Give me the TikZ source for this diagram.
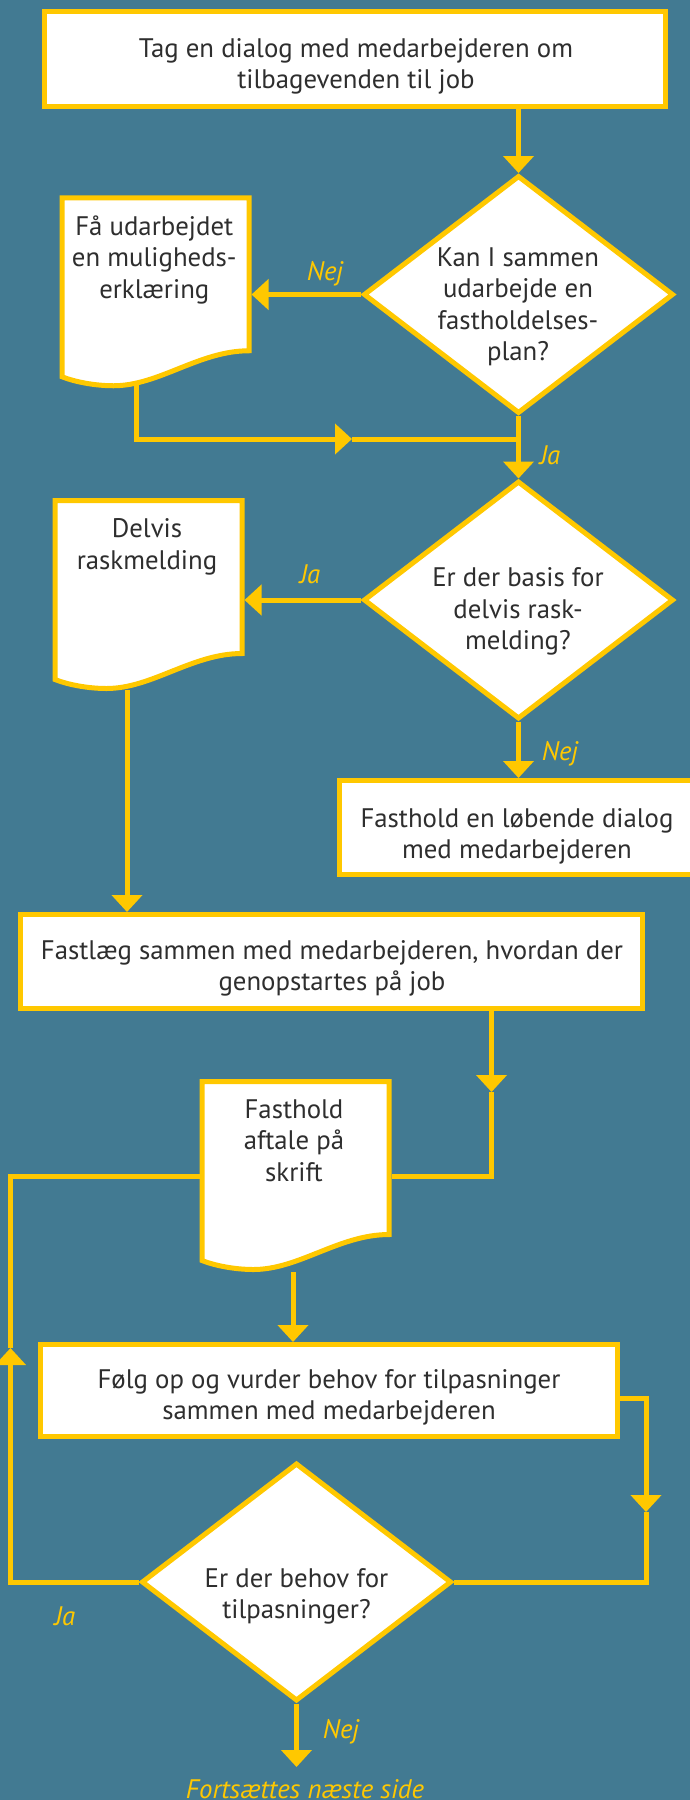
\documentclass[tikz,border=0pt]{standalone}
\usepackage{fontspec}
\setmainfont{PT Sans}
\usetikzlibrary{shapes.geometric,arrows.meta,calc}
\definecolor{bg}{HTML}{427A92}
\definecolor{yel}{HTML}{FFC800}
\definecolor{txt}{HTML}{2E2E2E}
\pgfdeclarelayer{back}
\pgfdeclarelayer{shapes}
\pgfsetlayers{back,shapes,main}
\newcommand\fs{\fontsize{26.8}{31.5}\selectfont}
\newcommand\mydoc[1]{%
  \coordinate (#1-nw) at ($(#1.north west)+(2.5,2.5)$);
  \coordinate (#1-ne) at ($(#1.north east)+(-2.5,2.5)$);
  \coordinate (#1-se) at ($(#1.south east)+(-2.5,-2.5)$);
  \coordinate (#1-sw) at ($(#1.south west)+(2.5,-2.5)$);
  \path[docline] (#1-nw) -- (#1-ne) -- (#1-se)
    .. controls ($(#1-sw)+(137,0)$) and ($(#1-sw)+(97,35)$) .. ($(#1-sw)+(51.5,35)$)
    .. controls ($(#1-sw)+(32.5,35)$) and ($(#1-sw)+(12.5,31)$) .. ($(#1-sw)+(0,26)$) -- cycle;}
\begin{document}
\begin{tikzpicture}[x=1pt,y=-1pt,
  every node/.style={font=\fs},
  box/.style={rectangle, draw=yel, fill=white, line width=5pt, inner sep=0pt},
  dec/.style={diamond, draw=yel, fill=white, line width=5pt, inner sep=0pt, minimum width=310pt, minimum height=238pt},
  docn/.style={rectangle, inner sep=0pt, outer sep=2.5pt, minimum width=187pt, minimum height=153pt},
  docline/.style={draw=yel, fill=white, line width=5pt},
  txtn/.style={align=center, text=txt, inner sep=0pt},
  lab/.style={text=yel, font=\fs\itshape, inner sep=0pt},
  conn/.style={draw=yel, line width=5pt},
  arr/.style={conn, -{Triangle[width=30pt,length=17pt]}}
]
\begin{pgfonlayer}{back}
\fill[bg] (0,0) rectangle (690,1800);
\end{pgfonlayer}
\useasboundingbox (0,0) rectangle (690,1800);

% nodes
\node[box, minimum width=621pt, minimum height=95pt] (b1) at (355,59) {};
\node[txtn] (b1t) at (356,66.5) {Tag en dialog med medarbejderen om\\tilbagevenden til job};
\node[dec] (d1) at (518.5,294.5) {};
\node[txtn] (d1t) at (518,306.9) {Kan I sammen\\udarbejde en\\fastholdelses-\\plan?};
\node[docn] (doc1) at (155.5,274.25) {};
\node[dec] (d2) at (518.5,600) {};
\node[txtn] (d2t) at (518,611.7) {Er der basis for\\delvis rask-\\melding?};
\node[docn] (doc2) at (148.5,577) {};
\node[box, minimum width=358pt, minimum height=94pt] (b3) at (518.5,827.5) {};
\node[txtn] (b3t) at (517,836.5) {Fasthold en løbende dialog\\med medarbejderen};
\node[box, minimum width=622pt, minimum height=94pt] (b4) at (331.3,961.5) {};
\node[txtn] (b4t) at (332,968.5) {Fastlæg sammen med medarbejderen, hvordan der\\genopstartes på job};
\node[docn] (doc3) at (295.5,1158) {};
\node[box, minimum width=577pt, minimum height=92pt] (b5) at (329,1390.5) {};
\node[txtn] (b5t) at (329,1397.5) {Følg op og vurder behov for tilpasninger\\sammen med medarbejderen};
\node[dec] (d3) at (296.5,1582) {};
\node[txtn] (d3t) at (296.5,1596.5) {Er der behov for\\tilpasninger?};

\begin{pgfonlayer}{shapes}
\mydoc{doc1}
\mydoc{doc2}
\mydoc{doc3}
\end{pgfonlayer}
\node[txtn, anchor=north] (doc1t) at (154.3,215.5) {Få udarbejdet\\en muligheds-\\erklæring};
\node[txtn, anchor=north] (doc2t) at (147,518.5) {Delvis\\raskmelding};
\node[txtn, anchor=north] (doc3t) at (294,1099.5) {Fasthold\\aftale på\\skrift};

% connectors
\draw[arr] (d1.north |- b1.south) -- (d1.north);
\draw[arr] (d1.west) -- (d1.west -| doc1.east);
\node[lab, anchor=base] (l1) at (325,280) {Nej};
\coordinate (s1) at (136,385);
\coordinate (m1) at (352,439);
\coordinate (j1) at (518.5,439);
\draw[arr] (s1) |- (m1);
\draw[conn] (m1) -- (j1);
\draw[arr] (d1.south) -- (d2.north);
\node[lab, anchor=base] (l2) at (550,464) {Ja};
\draw[arr] (d2.west) -- (d2.west -| doc2.east);
\node[lab, anchor=base] (l3) at (310,583) {Ja};
\draw[arr] (d2.south) -- (d2.south |- b3.north);
\node[lab, anchor=base] (l4) at (560,760) {Nej};
\coordinate (s2) at (127,690);
\draw[arr] (s2) -- (s2 |- b4.north);
\coordinate (m2) at (491.5,1092);
\coordinate (c2) at (491.5,1176);
\draw[arr] (b4.south -| m2) -- (m2);
\draw[conn] (m2) -- (c2) -- (c2 -| doc3.east);
\coordinate (s4) at (293,1272);
\draw[arr] (s4) -- (s4 |- b5.north);
\coordinate (c5) at (646,1398);
\coordinate (m5) at (646,1512);
\draw[arr] (c5 -| b5.east) -- (c5) -- (m5);
\draw[conn] (m5) |- (d3.east);
\coordinate (c6) at (10.5,1176);
\coordinate (m6) at (10.5,1348);
\draw[arr] (d3.west) -| (m6);
\draw[conn] (m6) -- (c6) -- (c6 -| doc3.west);
\node[lab, anchor=base] (l5) at (65,1625) {Ja};
\coordinate (e) at (296.5,1767);
\draw[arr] (d3.south) -- (e);
\node[lab, anchor=base] (l6) at (341,1738) {Nej};
\node[lab, anchor=base] (cont) at (305,1798) {Fortsættes næste side};
\end{tikzpicture}
\end{document}
